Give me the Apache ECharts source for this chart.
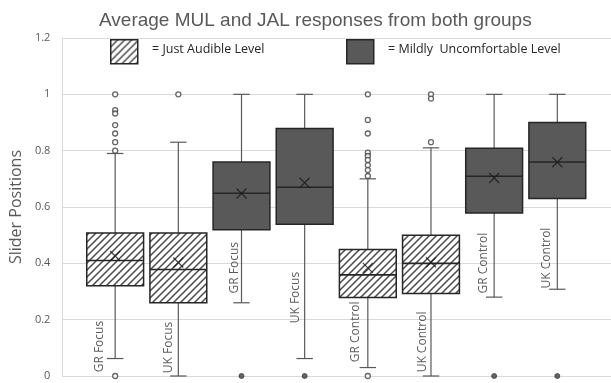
<!DOCTYPE html>
<html>
<head>
<meta charset="utf-8">
<script src="https://cdn.jsdelivr.net/npm/echarts@6/dist/echarts.min.js"></script>
<style>html,body{margin:0;padding:0;background:#fff}#c{width:611px;height:383px}</style>
</head>
<body>
<div id="c"></div>
<script>
// ---- data ----
const categories = ['GR Focus', 'UK Focus', 'GR Focus', 'UK Focus', 'GR Control', 'UK Control', 'GR Control', 'UK Control'];
const level = ['JAL', 'JAL', 'MUL', 'MUL', 'JAL', 'JAL', 'MUL', 'MUL'];
const whiskerLow = [0.062, 0.0, 0.26, 0.062, 0.03, 0.0, 0.28, 0.308];
const q1 = [0.32, 0.26, 0.519, 0.539, 0.279, 0.293, 0.579, 0.63];
const median = [0.41, 0.378, 0.649, 0.67, 0.359, 0.40, 0.709, 0.76];
const q3 = [0.508, 0.508, 0.76, 0.879, 0.449, 0.50, 0.809, 0.90];
const whiskerHigh = [0.79, 0.83, 1.0, 1.0, 0.70, 0.81, 1.0, 1.0];
const mean = [0.426, 0.403, 0.648, 0.686, 0.384, 0.404, 0.703, 0.759];
const outliers = [
  [1.0, 0.944, 0.932, 0.891, 0.861, 0.83, 0.80, 0],
  [1.0],
  [0],
  [0],
  [1.0, 0.909, 0.861, 0.793, 0.781, 0.767, 0.749, 0.731, 0.71, 0],
  [1.0, 0.985, 0.83],
  [0],
  [0]
];
const yTicks = [0, 0.2, 0.4, 0.6, 0.8, 1, 1.2];
const legendTexts = ['= Just Audible Level', '= Mildly  Uncomfortable Level'];
const titleText = 'Average MUL and JAL responses from both groups';
const yAxisName = 'Slider Positions';

// ---- label placement (annotation layout, data units: [x shift, y of text start]) ----
const labelPlacement = [[-0.25, 0.013], [-0.16, 0.01], [-0.11, 0.293], [-0.14, 0.187],
                        [-0.19, 0.049], [-0.13, 0.013], [-0.17, 0.293], [-0.17, 0.311]];

// ---- styles ----
function makeHatch() {
  const s = 7;
  const c = document.createElement('canvas');
  c.width = s; c.height = s;
  const g = c.getContext('2d');
  g.fillStyle = '#ffffff'; g.fillRect(0, 0, s, s);
  g.strokeStyle = '#4a4a4a'; g.lineWidth = 1.5;
  g.beginPath();
  g.moveTo(0, s); g.lineTo(s, 0);
  g.moveTo(-1, 1); g.lineTo(1, -1);
  g.moveTo(s - 1, s + 1); g.lineTo(s + 1, s - 1);
  g.stroke();
  return c;
}
const hatch = makeHatch();
const hatchFill = { image: hatch, repeat: 'repeat' };
const darkFill = '#595959';
const edge = '#262626';
const whiskerColor = '#595959';

const boxData = categories.map((c, i) => [i + 1, whiskerLow[i], q1[i], median[i], q3[i], whiskerHigh[i]]);
const meanData = mean.map((m, i) => [i + 1, m]);
const outHollow = [], outFilled = [];
outliers.forEach((arr, i) => arr.forEach(v => (level[i] === 'JAL' ? outHollow : outFilled).push([i + 1, v])));
const labelData = categories.map((c, i) => [i + 1 + labelPlacement[i][0], labelPlacement[i][1]]);

const chart = echarts.init(document.getElementById('c'), null, { renderer: 'canvas' });
chart.setOption({
  animation: false,
  backgroundColor: '#ffffff',
  title: {
    text: titleText, left: 94, top: 6,
    textStyle: { fontFamily: 'Liberation Sans', fontSize: 19, fontWeight: 'normal', color: '#595959' }
  },
  grid: { left: 60, right: 0, top: 38, bottom: 7 },
  xAxis: {
    type: 'value', min: 0.164, max: 8.85,
    axisLine: { show: false }, axisTick: { show: false }, axisLabel: { show: false }, splitLine: { show: false }
  },
  yAxis: {
    type: 'value', min: yTicks[0], max: yTicks[yTicks.length - 1], interval: 0.2,
    name: yAxisName, nameLocation: 'middle', nameGap: 38,
    nameTextStyle: { fontFamily: 'Open Sans', fontSize: 16, color: '#595959' },
    axisLine: { show: true, lineStyle: { color: '#d9d9d9' } },
    axisTick: { show: false },
    axisLabel: { fontFamily: 'Open Sans', fontSize: 11, color: '#595959', margin: 12 },
    splitLine: { lineStyle: { color: '#d9d9d9', width: 1 } }
  },
  graphic: [
    { type: 'rect', left: 110, top: 39, shape: { width: 27, height: 24 }, style: { fill: hatchFill, stroke: edge, lineWidth: 1.5 } },
    { type: 'text', left: 152, top: 43, style: { text: legendTexts[0], fontFamily: 'Open Sans', fontSize: 12.5, fill: '#262626' } },
    { type: 'rect', left: 346, top: 39, shape: { width: 27, height: 24 }, style: { fill: darkFill, stroke: edge, lineWidth: 1.5 } },
    { type: 'text', left: 388, top: 43, style: { text: legendTexts[1], fontFamily: 'Open Sans', fontSize: 12.5, fill: '#262626' } }
  ],
  series: [
    {
      type: 'custom', name: 'boxes', silent: true,
      data: boxData,
      renderItem: function (params, api) {
        const i = params.dataIndex;
        const x = api.value(0);
        const band = api.size([1, 0])[0];
        const bw = band * 0.9, cw = band * 0.26;
        const pLow = api.coord([x, api.value(1)]);
        const pQ1 = api.coord([x, api.value(2)]);
        const pMed = api.coord([x, api.value(3)]);
        const pQ3 = api.coord([x, api.value(4)]);
        const pHigh = api.coord([x, api.value(5)]);
        const cx = pQ1[0];
        const ws = { stroke: whiskerColor, lineWidth: 1.2 };
        return {
          type: 'group',
          children: [
            { type: 'line', shape: { x1: cx, y1: pQ3[1], x2: cx, y2: pHigh[1] }, style: ws },
            { type: 'line', shape: { x1: cx - cw / 2, y1: pHigh[1], x2: cx + cw / 2, y2: pHigh[1] }, style: ws },
            { type: 'line', shape: { x1: cx, y1: pQ1[1], x2: cx, y2: pLow[1] }, style: ws },
            { type: 'line', shape: { x1: cx - cw / 2, y1: pLow[1], x2: cx + cw / 2, y2: pLow[1] }, style: ws },
            { type: 'rect', shape: { x: cx - bw / 2, y: pQ3[1], width: bw, height: pQ1[1] - pQ3[1] },
              style: { fill: level[i] === 'JAL' ? hatchFill : darkFill, stroke: edge, lineWidth: 1.5 } },
            { type: 'line', shape: { x1: cx - bw / 2, y1: pMed[1], x2: cx + bw / 2, y2: pMed[1] }, style: { stroke: edge, lineWidth: 1.6 } }
          ]
        };
      }
    },
    {
      type: 'scatter', name: 'outliersJAL', silent: true, data: outHollow,
      symbol: 'circle', symbolSize: 5,
      itemStyle: { color: '#ffffff', borderColor: '#404040', borderWidth: 1.3 }
    },
    {
      type: 'scatter', name: 'outliersMUL', silent: true, data: outFilled,
      symbol: 'circle', symbolSize: 5,
      itemStyle: { color: '#404040', borderColor: '#404040', borderWidth: 1 }
    },
    {
      type: 'scatter', name: 'mean', silent: true, data: meanData,
      symbol: 'path://M0,0L10,10M10,0L0,10', symbolSize: 10,
      itemStyle: { color: 'rgba(0,0,0,0)', borderColor: '#1a1a1a', borderWidth: 1.3 }
    },
    {
      type: 'scatter', name: 'labels', silent: true, data: labelData,
      symbolSize: 0.1,
      label: {
        show: true, position: 'inside', rotate: 90, align: 'left', verticalAlign: 'middle',
        formatter: p => categories[p.dataIndex],
        fontFamily: 'Open Sans', fontSize: 12, color: '#333333'
      }
    }
  ]
});
</script>
</body>
</html>
